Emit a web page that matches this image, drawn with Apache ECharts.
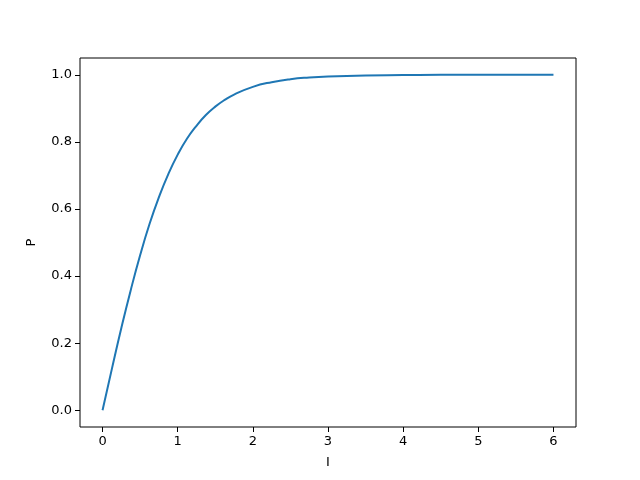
<!DOCTYPE html>
<html><head><meta charset="utf-8">
<script src="https://cdn.jsdelivr.net/npm/echarts@6/dist/echarts.min.js"></script>
<style>html,body{margin:0;padding:0;background:#fff}#c{width:640px;height:480px}</style>
</head><body><div id="c"></div>
<script>
const currentI = [0, 0.125, 0.25, 0.375, 0.5, 0.625, 0.75, 0.875, 1, 1.125, 1.25, 1.375, 1.5, 1.625, 1.75, 2, 2.25, 2.5, 2.75, 3, 3.5, 4, 4.5, 5, 5.5, 6];
const powerP = [0, 0.124, 0.245, 0.358, 0.462, 0.555, 0.635, 0.704, 0.762, 0.810, 0.848, 0.880, 0.905, 0.925, 0.941, 0.964, 0.978, 0.987, 0.992, 0.995, 0.998, 0.999, 1.0, 1.0, 1.0, 1.0];
const xTicks = [0, 1, 2, 3, 4, 5, 6];
const yTicks = [0, 0.2, 0.4, 0.6, 0.8, 1.0];

const chart = echarts.init(document.getElementById('c'));
const font = 'DejaVu Sans';
chart.setOption({
  animation: false,
  grid: {left: 80, right: 64, top: 58, bottom: 53, show: true, borderColor: '#000', borderWidth: 1, backgroundColor: 'transparent'},
  xAxis: {
    type: 'value', min: -0.3, max: 6.3,
    name: 'I', nameLocation: 'middle', nameGap: 29,
    nameTextStyle: {fontFamily: font, fontSize: 13, color: '#000'},
    axisLine: {show: false, onZero: false},
    splitLine: {show: false},
    axisTick: {show: true, length: 5, lineStyle: {color: '#000'}, customValues: xTicks},
    axisLabel: {fontFamily: font, fontSize: 13, color: '#000', margin: 8, customValues: xTicks, formatter: v => String(v)}
  },
  yAxis: {
    type: 'value', min: -0.05, max: 1.05,
    name: 'P', nameLocation: 'middle', nameGap: 42,
    nameTextStyle: {fontFamily: font, fontSize: 13, color: '#000'},
    axisLine: {show: false, onZero: false},
    splitLine: {show: false},
    axisTick: {show: true, length: 5, lineStyle: {color: '#000'}, customValues: yTicks},
    axisLabel: {fontFamily: font, fontSize: 13, color: '#000', margin: 8, customValues: yTicks, formatter: v => v.toFixed(1)}
  },
  series: [{
    type: 'line', showSymbol: false, smooth: true,
    data: currentI.map((x, i) => [x, powerP[i]]),
    lineStyle: {color: '#1f77b4', width: 2}
  }]
});
</script></body></html>
